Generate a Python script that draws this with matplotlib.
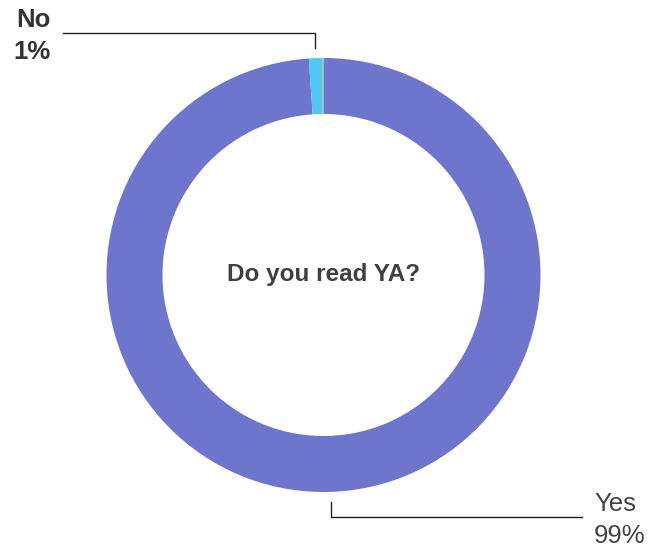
import numpy as np
import matplotlib.pyplot as plt

plt.rcParams['font.family'] = ['Liberation Sans', 'DejaVu Sans']

# Survey answers
answers = ['Yes', 'No', 'Other']
shares = [99.0, 1.0, 0.08]
answer_labels = ['Yes\n99%', 'No\n1%', None]
label_weights = ['normal', 'bold', 'normal']
colors = ['#6e75cc', '#4fc8f5', '#8cbf6a']
question = 'Do you read YA?'

W, H = 650, 548
fig = plt.figure(figsize=(W / 100, H / 100), dpi=100)
ax = fig.add_axes([0, 0, 1, 1])

cx, cy = 323.5, H - 275
r_out, ring = 217, 56

wedges, _ = ax.pie(shares, colors=colors, startangle=90, counterclock=False,
                   radius=r_out, center=(cx, cy), frame=True,
                   wedgeprops=dict(width=ring, linewidth=0))
ax.set_xlim(0, W)
ax.set_ylim(0, H)
ax.set_aspect('equal')
ax.axis('off')

ax.text(cx, cy, question, ha='center', va='center', fontsize=17.5,
        color='#404040', fontweight='bold')

# leader lines: short vertical tick off the ring, then horizontal run to label
for w, lab, wt in zip(wedges, answer_labels, label_weights):
    if lab is None:
        continue
    mid = np.deg2rad((w.theta1 + w.theta2) / 2)
    x0 = cx + (r_out + 10) * np.cos(mid)
    y0 = cy + (r_out + 10) * np.sin(mid)
    up = np.sign(np.sin(mid))
    y1 = y0 + up * 15
    tcol = '#333333' if wt == 'bold' else '#444444'
    if up > 0:
        x1 = 63
        ax.plot([x0, x0, x1], [y0, y1, y1], color='#222222', lw=1)
        ax.text(x1 - 12, y1 - 3, lab, ha='right', va='center', fontsize=18.5,
                color=tcol, fontweight=wt, linespacing=1.4)
    else:
        x1 = 582
        ax.plot([x0, x0, x1], [y0, y1, y1], color='#222222', lw=1)
        ax.text(x1 + 12, y1 - 3, lab, ha='left', va='center', fontsize=18.5,
                color=tcol, fontweight=wt, linespacing=1.4)

fig.savefig('out.png', dpi=100, facecolor='white')
